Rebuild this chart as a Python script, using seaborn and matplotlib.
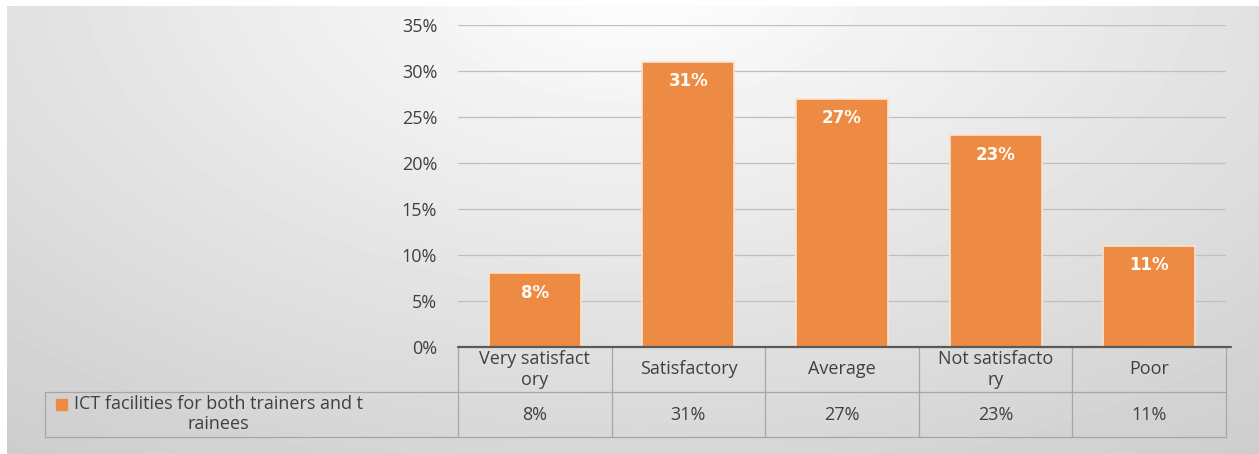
import numpy as np
import pandas as pd
import matplotlib
matplotlib.use('Agg')
import matplotlib.pyplot as plt
import matplotlib.transforms as mtransforms
import seaborn as sns

CATEGORIES   = ['Very satisfactory', 'Satisfactory', 'Average', 'Not satisfactory', 'Poor']
HEADER_TEXT  = ['Very satisfact\nory', 'Satisfactory', 'Average', 'Not satisfacto\nry', 'Poor']
VALUES       = [8, 31, 27, 23, 11]
SERIES_NAME  = 'ICT facilities for both trainers and t\nrainees'
Y_TICKS      = [0, 5, 10, 15, 20, 25, 30, 35]

BAR_COLOR  = '#ED8B45'
TEXT_COLOR = '#404040'
GRID_COLOR = '#BFBFBF'
W, H = 1259, 454

sns.set_theme(style='white')
plt.rcParams['font.family'] = ['Open Sans', 'DejaVu Sans']

df = pd.DataFrame({'Category': CATEGORIES, 'Value': VALUES})

fig = plt.figure(figsize=(W / 100, H / 100), dpi=100)
fig.patch.set_facecolor('white')

# ── background: soft radial gradient like the slide ──────────────────────────
bg = fig.add_axes([7 / W, 0, 1 - 7 / W, 1 - 6 / H], zorder=-10)
yy, xx = np.mgrid[6:H, 7:W]
d = np.sqrt(((xx - 640) / 900.0) ** 2 + ((yy + 30) / 520.0) ** 2)
shade = np.clip(1.0 - 0.17 * d, 0.78, 1.0)
bg.imshow(shade, cmap='gray', vmin=0, vmax=1, aspect='auto', extent=[0, 1, 0, 1])
bg.set_axis_off()

# ── bar chart ────────────────────────────────────────────────────────────────
ax = fig.add_axes([458 / W, 1 - 347 / H, 768 / W, 322 / H])
ax.patch.set_alpha(0)
sns.barplot(data=df, x='Category', y='Value', color=BAR_COLOR, width=0.6,
            saturation=1, edgecolor='#FBE3CF', linewidth=1.2, ax=ax, zorder=3)

ax.set_ylim(0, 35)
ax.set_xlim(-0.5, len(CATEGORIES) - 0.5)
ax.set_yticks(Y_TICKS)
ax.set_yticklabels([f'{t}%' for t in Y_TICKS], color=TEXT_COLOR, fontsize=13)
ax.tick_params(axis='y', length=0, pad=15)
ax.set_xticks([])
ax.set_xlabel('')
ax.set_ylabel('')
for t in Y_TICKS[1:]:
    ax.axhline(t, color=GRID_COLOR, lw=0.9, zorder=1)
for s in ax.spines.values():
    s.set_visible(False)
ax.plot([-0.5, 4.53], [0, 0], color='#595959', lw=1.6, clip_on=False, zorder=4)

for i, v in enumerate(VALUES):
    ax.text(i, v - 2.1, f'{v}%', ha='center', va='center', color='#FFFDF8',
            fontsize=12, fontweight='bold', family='DejaVu Sans', zorder=5)

# ── data table under the axis ────────────────────────────────────────────────
trans = mtransforms.blended_transform_factory(ax.transData, ax.transAxes)
row_h = 45 / 322
line_kw = dict(color='#A6A6A6', lw=0.9, clip_on=False, transform=trans)
x_left = -0.5 - (458 - 45) / (768 / 5)

for k in range(len(CATEGORIES) + 1):
    ax.plot([k - 0.5, k - 0.5], [0, -2 * row_h], **line_kw)
ax.plot([x_left, 4.5], [-row_h, -row_h], **line_kw)
ax.plot([x_left, 4.5], [-2 * row_h, -2 * row_h], **line_kw)
ax.plot([x_left, x_left], [-row_h, -2 * row_h], **line_kw)

for i, (h, v) in enumerate(zip(HEADER_TEXT, VALUES)):
    ax.text(i, -0.5 * row_h, h, transform=trans, ha='center', va='center',
            color=TEXT_COLOR, fontsize=13, linespacing=1.15)
    ax.text(i, -1.5 * row_h, f'{v}%', transform=trans, ha='center', va='center',
            color=TEXT_COLOR, fontsize=13)

fig.text(218 / W, 1 - 414 / H, SERIES_NAME, ha='center', va='center',
         color=TEXT_COLOR, fontsize=13, linespacing=1.15)
fig.patches.append(plt.Rectangle((56 / W, 1 - 410 / H), 11 / W, 11 / H,
                                 transform=fig.transFigure, color=BAR_COLOR,
                                 figure=fig))

fig.savefig('out.png', dpi=100)
